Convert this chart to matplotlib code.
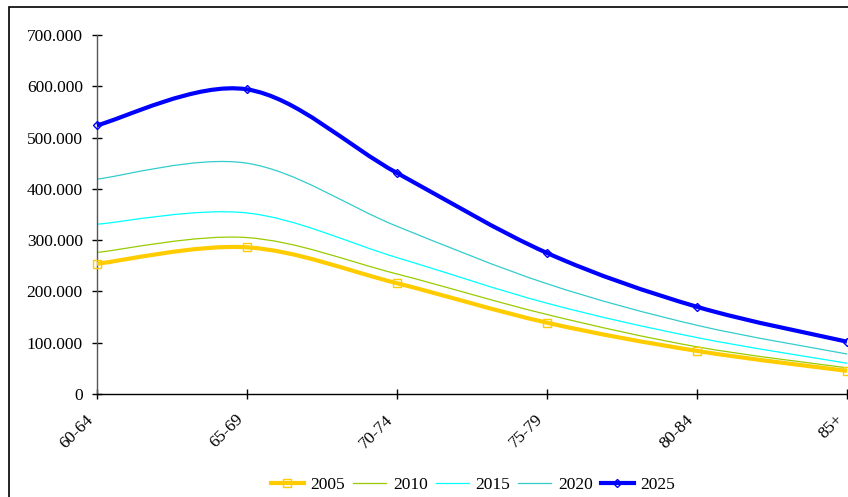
import matplotlib
matplotlib.use("Agg")
import matplotlib.pyplot as plt
import matplotlib.transforms as mtransforms
from matplotlib.path import Path
from matplotlib.patches import PathPatch, Rectangle
from matplotlib.lines import Line2D
from matplotlib.ticker import FuncFormatter, MultipleLocator

plt.rcParams['font.family'] = ['Liberation Serif', 'DejaVu Serif']

# Age groups and projected population per year
age_groups = ["60-64", "65-69", "70-74", "75-79", "80-84", "85+"]
pop_2005 = [254000, 286000, 216000, 139000, 84000, 45000]
pop_2010 = [276000, 305000, 234000, 155000, 92000, 51000]
pop_2015 = [331000, 353000, 266000, 177000, 110000, 60000]
pop_2020 = [419000, 450000, 327000, 215000, 134000, 78000]
pop_2025 = [524000, 594000, 431000, 275000, 170000, 102000]
years = ["2005", "2010", "2015", "2020", "2025"]

series = [pop_2005, pop_2010, pop_2015, pop_2020, pop_2025]
colors = ["#FFCC00", "#99CC00", "#00FFFF", "#33CCCC", "#0000FF"]
widths = [3.0, 0.9, 0.9, 0.9, 3.0]
markers = ["s", None, None, None, "D"]
msizes = [5.5, 0, 0, 0, 4.5]
zorders = [3, 2, 2, 2, 4]


def smooth_path(xs, ys):
    """Cubic Bezier path through the points (Catmull-Rom style smoothing)."""
    n = len(xs)
    verts = [(xs[0], ys[0])]
    codes = [Path.MOVETO]
    for i in range(n - 1):
        x0, y0 = (xs[i - 1], ys[i - 1]) if i > 0 else (xs[i], ys[i])
        x1, y1 = xs[i], ys[i]
        x2, y2 = xs[i + 1], ys[i + 1]
        x3, y3 = (xs[i + 2], ys[i + 2]) if i + 2 < n else (x2, y2)
        c1 = (x1 + (x2 - x0) / 6.0, y1 + (y2 - y0) / 6.0)
        c2 = (x2 - (x3 - x1) / 6.0, y2 - (y3 - y1) / 6.0)
        verts += [c1, c2, (x2, y2)]
        codes += [Path.CURVE4] * 3
    return Path(verts, codes)


fig = plt.figure(figsize=(8.48, 4.97), dpi=100)
ax = fig.add_axes([97 / 848, 103 / 497, 750 / 848, 359 / 497])

xs = list(range(len(age_groups)))
handles = []
for vals, col, lw, mk, ms, zo, yr in zip(series, colors, widths, markers, msizes, zorders, years):
    patch = PathPatch(smooth_path(xs, vals), facecolor="none", edgecolor=col,
                      lw=lw, zorder=zo, clip_on=False, joinstyle="round", capstyle="butt")
    ax.add_patch(patch)
    if mk:
        ax.plot(xs, vals, linestyle="none", marker=mk, markersize=ms,
                markerfacecolor="none", markeredgecolor=col, markeredgewidth=1.0,
                zorder=zo + 1, clip_on=False)
    handles.append(Line2D([], [], color=col, lw=lw, marker=mk if mk else None,
                          markersize=ms, markerfacecolor="none",
                          markeredgecolor=col, markeredgewidth=1.0))

ax.set_xlim(0, len(age_groups) - 1)
ax.set_ylim(0, 700000)
ax.set_xticks(xs)
ax.set_xticklabels(age_groups, rotation=45, ha="right", va="top",
                   rotation_mode="anchor")
ax.yaxis.set_major_locator(MultipleLocator(100000))
ax.yaxis.set_major_formatter(FuncFormatter(
    lambda v, p: "0" if v == 0 else f"{int(v):,}".replace(",", ".")))

for s in ("top", "right"):
    ax.spines[s].set_visible(False)
ax.spines["left"].set_color("#555555")
ax.spines["bottom"].set_color("black")
ax.spines["left"].set_linewidth(1.0)
ax.spines["bottom"].set_linewidth(1.0)
ax.tick_params(axis="both", direction="inout", length=7.5, width=1.0,
               labelsize=12.5, colors="black")
ax.tick_params(axis="y", pad=6.5)
ax.tick_params(axis="x", pad=6)
ax.patch.set_visible(False)

# nudge the rotated category labels left/down so they hang under their ticks
shift = mtransforms.ScaledTranslation(-12 / 100, -4 / 100, fig.dpi_scale_trans)
for lbl in ax.get_xticklabels():
    lbl.set_transform(lbl.get_transform() + shift)

fig.legend(handles, years, loc="center", bbox_to_anchor=(473 / 848, 12 / 497),
           ncol=5, frameon=False, fontsize=12.5, handlelength=1.9,
           handletextpad=0.4, columnspacing=0.45, borderaxespad=0)

# outer chart frame
fig.add_artist(Rectangle((8.5 / 848, -0.1), 1.2, (490.5 / 497) + 0.1,
                         transform=fig.transFigure, fill=False,
                         edgecolor="black", lw=1.2))

fig.savefig("out.png", dpi=100)
